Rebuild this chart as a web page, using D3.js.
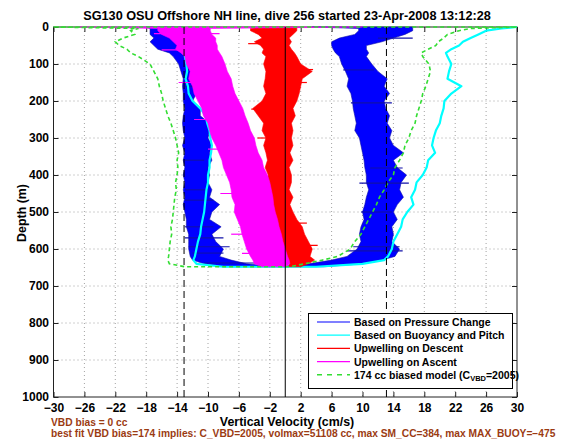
<!DOCTYPE html>
<html><head><meta charset="utf-8">
<script src="https://cdn.jsdelivr.net/npm/d3@7/dist/d3.min.js"></script>
<style>
body{margin:0;background:#fff}
svg{display:block}
text{font-family:"Liberation Sans",Arial,Helvetica,sans-serif;font-weight:bold}
</style>
</head><body>
<svg id="chart" width="570" height="440"></svg>
<script>
// ---------------- data ----------------
const titleText = "SG130 OSU Offshore NH line, dive 256 started 23-Apr-2008 13:12:28";
const xTicks = [-30,-26,-22,-18,-14,-10,-6,-2,2,6,10,14,18,22,26,30];
const yTicks = [0,100,200,300,400,500,600,700,800,900,1000];
const refLines = [-13.1, 13.1];   // dashed reference velocities
const zeroLine = [0];

const depths = [0,4,10,20,30,40,50,60,70,80,100,120,140,160,180,200,220,240,260,280,300,320,340,360,380,400,420,440,460,480,500,520,540,560,580,600,620,630,640,648];

// Based on Pressure Change (descent / ascent bands)
const blueDownLo = [-18,-17.5,-17.5,-17.5,-17,-17.5,-17,-16.5,-15,-14.5,-13.8,-13.5,-13.2,-13.3,-13.2,-13.2,-13,-13.2,-13.3,-13.2,-13,-13.3,-13,-13.2,-13,-13.2,-13,-13.2,-13,-13.2,-13,-12.8,-12.8,-12.5,-12.5,-12.5,-12.3,-12,-10.5,-8];
const blueDownHi = [-13,-13.5,-13,-13.5,-13.5,-13.8,-13.5,-13.2,-12.5,-12.5,-11.5,-10.5,-11.8,-12,-11.5,-12,-11,-11,-9.8,-9.8,-10,-9.5,-9.8,-9.5,-10,-9.8,-10,-9.5,-9.8,-8.5,-9.5,-9.8,-8.3,-9.5,-9,-8,-8.5,-7,-5,-1];
const blueUpLo = [3.5,9.5,9.5,9,7,6,6,6.2,6.5,7,7.3,7.8,8.2,8,8.5,8.7,8.8,9,9.2,9,9.6,9.8,10,10.2,10.3,10.5,10.5,10.8,10.5,10.3,10,10.2,9.8,9.6,9.8,9.3,8,6,3,-1];
const blueUpHi = [16.5,16.5,16.5,15.5,14,12.5,10.5,10.5,10.8,10.5,11.2,12,13.2,12.8,13.5,12.8,13,13.5,13.2,13.8,13.5,14,15.3,14,14.5,15.7,15,14.8,15.3,14.5,14,14.5,13.8,14,13.8,14.8,14.2,12.5,10,5];
const blueSpikeDepth = [30,116,116,160,205,360,381,422,440,468,500,540,570,594,594,605,611,638];
const blueSpikeFrom  = [12,-13,7.5,-13,8.5,-13,11,9.6,-13,-13,9.8,-13,-13,-12.5,8.8,8,-12,-10.5];
const blueSpikeTo    = [16.5,-8.4,11.5,-10.8,13.8,-10.5,15.2,16,-10,-9.3,13.8,-9.3,-8,-7.2,14.8,15.2,-8,-3.5];

// Based on Buoyancy and Pitch
const cyanDown = [-13,-13,-13,-12.8,-12.5,-13,-13.2,-12.6,-12.8,-13,-12.8,-12.7,-12.9,-12.6,-12.5,-12,-11,-10.3,-10.1,-9.8,-9.7,-9.5,-9.6,-9.8,-9.8,-10,-10,-10.2,-10.3,-10.4,-10.5,-10.7,-10.9,-11,-11.3,-11.5,-11.7,-11.9,-11.5,-8];
const cyanUp = [30,28,26,25,24,23,22.5,21.5,20.8,21,21.5,21.2,21,22.8,21.5,20.6,20.5,20.2,20,19.5,19.2,19,19.4,18.5,18.3,17.8,17,16.8,16.3,16.6,15.8,15.2,15,14.5,14,13.8,13.3,12.8,10,4];

// Upwelling on Descent
const redLo = [-3,-4.5,-4.5,-3.5,-3,-4,-3.2,-2.8,-3,-2.5,-2.8,-2.5,-2.6,-2.8,-2.5,-3,-4.2,-3.5,-2.8,-3,-2.5,-2.8,-2.5,-2.3,-2.6,-2.2,-2.5,-2.3,-2,-2.2,-1.8,-1.5,-1.2,-1,-0.8,-0.8,-0.5,0,0.5,0.5];
const redHi = [1.5,1.5,1.5,1,0.5,0.8,0.5,0.8,1.2,1.5,2,3.5,2.2,2,1.8,1.5,1,1.3,0.8,1,0.8,1,0.6,1,0.5,0.8,0.8,0.5,1,0.6,1,1.5,2.2,2.5,3,3.5,3.2,3.8,3,2];
const redSpikeDepth = [45,115,150,222,300,455,530,590];
const redSpikeFrom  = [-4.8,0,0,-4.4,-3.6,-3,-1,0];
const redSpikeTo    = [-1,3.6,2.8,-1,-1,-0.5,2.8,4.2];

// Upwelling on Ascent
const magLo = [-27,-16.5,-16.5,-16,-15,-14.5,-14,-14.2,-13.5,-13,-12.8,-12.3,-12.5,-12,-11.8,-11.3,-10.8,-10.6,-10,-9.8,-9.5,-9,-8.6,-8.2,-8,-7.6,-7.2,-7,-6.9,-6.5,-6.6,-6.2,-5.8,-5.6,-5.3,-5,-4.5,-4.2,-4,-3];
const magHi = [10,-9.7,-9.7,-9.5,-9,-9,-8.8,-8.8,-8.5,-8.2,-7.8,-7.5,-7,-6.8,-6.5,-6,-5.5,-5.2,-4.8,-4.5,-4,-3.8,-3.5,-3,-2.8,-2.3,-2,-1.8,-1.6,-1.5,-1.3,-1,-0.8,-0.5,-0.3,0,0.3,0.5,0.6,0];
const magSpikeDepth = [18,62,150,250,330,450,560,612];
const magSpikeFrom  = [-17,-16,-13.8,-11.8,-10,-8.4,-7,-5.6];
const magSpikeTo    = [-8.5,-10,-9,-7,-6,-4,-3,-1];

// 174 cc biased model
const greenDown = [-30,-19,-20,-19.5,-21,-22,-21.5,-20.5,-20,-19,-17.5,-17,-16.5,-16.3,-16,-15.8,-15.5,-15.2,-14.8,-14.5,-14.2,-14,-13.8,-14,-13.9,-14,-14.2,-14.1,-14.3,-14.4,-14.5,-14.6,-14.8,-14.7,-14.9,-15,-15.1,-15.2,-15,-13];
const greenUp = [30,24,22.5,21,20.5,19.8,19.5,18.5,17.6,17.8,18.6,18.8,18.5,18.2,17.8,17.6,17.3,17,16.8,16.3,16,15.5,15.3,14.8,14.2,14,13.3,12.8,12.2,11.8,11.3,10.8,10.3,9.8,9,8.4,6.8,4.8,2.5,0.5];

const legendLabels = ["Based on Pressure Change","Based on Buoyancy and Pitch","Upwelling on Descent","Upwelling on Ascent"];
const noteLines = ["VBD bias = 0 cc","best fit VBD bias=174 implies: C_VBD=2005, volmax=51108 cc, max SM_CC=384, max MAX_BUOY=\u2212475"];

// ---------------- drawing ----------------
const C = {blue:"#0000ff", navy:"#1010a8", cyan:"#00ffff", red:"#ff0000", mag:"#ff00ff", green:"#33dd33", brown:"#9b3b12"};
const svg = d3.select("#chart");
const x = d3.scaleLinear().domain([-30,30]).range([53.5,517]);
const y = d3.scaleLinear().domain([0,1000]).range([27,397]);
const fmt = v => v < 0 ? "\u2212" + Math.abs(v) : String(v);
// scale a text's font so it spans a target width
function fitWidth(sel, target){ const n = sel.node(); const fs = +sel.attr("font-size"); const w = n.getComputedTextLength(); if (w > 0) sel.attr("font-size", (fs*target/w).toFixed(2)); return sel; }

svg.append("rect").attr("width",570).attr("height",440).attr("fill","#fff");

// grid
const grid = svg.append("g").attr("stroke","#8a8a8a").attr("stroke-width",0.8).attr("stroke-dasharray","1,3");
grid.selectAll(".gx").data(xTicks.slice(1,-1)).join("line")
  .attr("x1",d=>x(d)).attr("x2",d=>x(d)).attr("y1",y(0)).attr("y2",y(1000));
grid.selectAll(".gy").data(yTicks.slice(1,-1)).join("line")
  .attr("x1",x(-30)).attr("x2",x(30)).attr("y1",d=>y(d)).attr("y2",d=>y(d));

// axes
function styleAxis(g){ g.select(".domain").remove(); g.selectAll("line").attr("stroke","#222"); g.selectAll("text").attr("font-size",12).attr("font-family","'Liberation Sans',Arial,sans-serif").attr("font-weight","bold").attr("fill","#000"); }
svg.append("g").attr("transform",`translate(0,${y(1000)})`)
  .call(d3.axisBottom(x).tickValues(xTicks).tickSize(-5).tickPadding(6.5).tickFormat(fmt)).call(styleAxis);
svg.append("g").attr("transform",`translate(0,${y(0)})`)
  .call(d3.axisTop(x).tickValues(xTicks).tickSize(-5).tickFormat("")).call(styleAxis);
svg.append("g").attr("transform",`translate(${x(-30)},0)`)
  .call(d3.axisLeft(y).tickValues(yTicks).tickSize(-5).tickPadding(4.5).tickFormat(d=>String(d))).call(styleAxis);
svg.append("g").attr("transform",`translate(${x(30)},0)`)
  .call(d3.axisRight(y).tickValues(yTicks).tickSize(-5).tickFormat("")).call(styleAxis);
svg.append("rect").attr("x",x(-30)).attr("y",y(0)).attr("width",x(30)-x(-30)).attr("height",y(1000)-y(0))
  .attr("fill","none").attr("stroke","#222").attr("stroke-width",1);

// data
const band = (lo,hi) => depths.map((d,i)=>({depth:d, lo:lo[i], hi:hi[i]}));
const area = d3.area().y(d=>y(d.depth)).x0(d=>x(d.lo)).x1(d=>x(d.hi));
const pts = arr => arr.map((v,i)=>[x(v), y(depths[i])]);
const line = d3.line();
const data = svg.append("g");
function spikes(dep, from, to, color, w){
  data.append("g").selectAll("line").data(dep).join("line")
    .attr("x1",(d,i)=>x(from[i])).attr("x2",(d,i)=>x(to[i]))
    .attr("y1",d=>y(d)).attr("y2",d=>y(d)).attr("stroke",color).attr("stroke-width",w);
}
// blue
data.append("path").attr("d",area(band(blueDownLo,blueDownHi))).attr("fill",C.blue).attr("stroke",C.navy).attr("stroke-width",0.6);
data.append("path").attr("d",area(band(blueUpLo,blueUpHi))).attr("fill",C.blue).attr("stroke",C.navy).attr("stroke-width",0.6);
spikes(blueSpikeDepth, blueSpikeFrom, blueSpikeTo, C.navy, 1.1);
// cyan
data.append("path").attr("d",line(pts(cyanDown).concat(pts(cyanUp).reverse())))
  .attr("fill","none").attr("stroke",C.cyan).attr("stroke-width",2.2).attr("stroke-linejoin","round");
// red
data.append("path").attr("d",area(band(redLo,redHi))).attr("fill",C.red).attr("stroke",C.red).attr("stroke-width",0.6);
spikes(redSpikeDepth, redSpikeFrom, redSpikeTo, C.red, 1.2);
// magenta
data.append("path").attr("d",area(band(magLo,magHi))).attr("fill",C.mag).attr("stroke",C.mag).attr("stroke-width",0.6);
spikes(magSpikeDepth, magSpikeFrom, magSpikeTo, C.mag, 1.2);
// green model (closed loop: descent, bottom, ascent, surface)
data.append("path").attr("d",d3.line().curve(d3.curveLinearClosed)(pts(greenDown).concat(pts(greenUp).reverse())))
  .attr("fill","none").attr("stroke",C.green).attr("stroke-width",1.6).attr("stroke-dasharray","4,3");

// reference lines
svg.selectAll(".ref").data(refLines).join("line")
  .attr("x1",d=>x(d)).attr("x2",d=>x(d)).attr("y1",y(0)).attr("y2",y(1000))
  .attr("stroke","#000").attr("stroke-width",1).attr("stroke-dasharray","7,4");
svg.selectAll(".zero").data(zeroLine).join("line")
  .attr("x1",d=>x(d)).attr("x2",d=>x(d)).attr("y1",y(0)).attr("y2",y(1000))
  .attr("stroke","#000").attr("stroke-width",1);

// legend
const lg = svg.append("g");
lg.append("rect").attr("x",308.5).attr("y",313.5).attr("width",204).attr("height",75).attr("fill","#fff").attr("stroke","#000").attr("stroke-width",1);
const legColors = [C.blue, C.cyan, C.red, C.mag];
const ly = i => 322 + i*13.2;
legendLabels.forEach((t,i)=>{
  lg.append("line").attr("x1",317).attr("x2",350).attr("y1",ly(i)).attr("y2",ly(i)).attr("stroke",legColors[i]).attr("stroke-width",1.2);
  lg.append("text").attr("x",354).attr("y",ly(i)+4).attr("font-size",10.5).text(t);
});
lg.append("line").attr("x1",317).attr("x2",350).attr("y1",ly(4)).attr("y2",ly(4)).attr("stroke",C.green).attr("stroke-width",1.6).attr("stroke-dasharray","5,5");
const lt = lg.append("text").attr("x",354).attr("y",ly(4)+4).attr("font-size",10.5);
lt.append("tspan").text("174 cc biased model (C");
lt.append("tspan").attr("font-size",7.5).attr("dy",2.5).text("VBD");
lt.append("tspan").attr("dy",-2.5).text("=2005)");

// titles
fitWidth(svg.append("text").attr("x",287).attr("y",20).attr("text-anchor","middle").attr("font-size",12).text(titleText), 408);
svg.append("text").attr("x",287).attr("y",426).attr("text-anchor","middle").attr("font-size",12.4).text("Vertical Velocity (cm/s)");
svg.append("text").attr("transform","translate(26,213) rotate(-90)").attr("text-anchor","middle").attr("font-size",12.4).text("Depth (m)");
const n1 = svg.append("text").attr("x",51).attr("y",426).attr("font-size",10).attr("fill",C.brown).text(noteLines[1]);
const n0 = svg.append("text").attr("x",51).attr("y",426).attr("font-size",10).attr("fill",C.brown).text(noteLines[0]);
n1.attr("y",437);
fitWidth(n1, 505);
n0.attr("font-size", n1.attr("font-size"));
</script>
</body></html>
